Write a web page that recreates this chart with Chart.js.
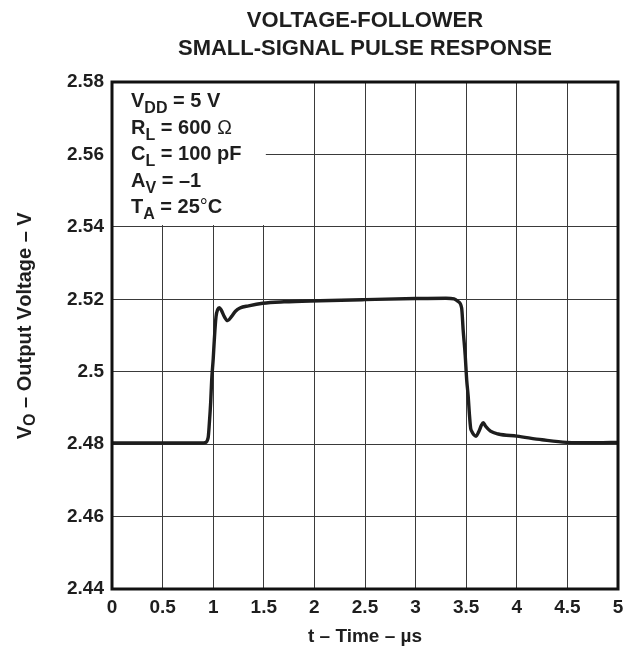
<!DOCTYPE html>
<html>
<head>
<meta charset="utf-8">
<script src="https://cdn.jsdelivr.net/npm/chart.js@4/dist/chart.umd.min.js"></script>
<style>
  html, body { margin: 0; padding: 0; background: #fff; }
  #pulse { display: block; }
</style>
</head>
<body>
<canvas id="pulse" width="634" height="654"></canvas>
<script>
// Small-signal pulse response, output voltage vs time
const timeUs = [0, 0.5, 0.9, 0.92, 0.95, 0.962, 0.975, 0.985, 1.0, 1.011, 1.028, 1.045, 1.06, 1.08,
    1.11, 1.143, 1.18, 1.22, 1.265, 1.35, 1.49, 1.7, 2.055, 2.5, 3.0, 3.3, 3.38, 3.42, 3.455, 3.47,
    3.49, 3.505, 3.52, 3.531, 3.544, 3.554, 3.575, 3.597, 3.625, 3.65, 3.669, 3.69, 3.74, 3.817,
    4.0, 4.25, 4.49, 4.79, 5.0];
const outputV = [2.4803, 2.4803, 2.4803, 2.4804, 2.4818, 2.4858, 2.4915, 2.4977, 2.5035, 2.5088,
    2.5152, 2.5172, 2.5177, 2.5170, 2.5152, 2.5141, 2.5152, 2.5167, 2.5176, 2.5182, 2.5189, 2.5193,
    2.5196, 2.5199, 2.5202, 2.5203, 2.5201, 2.5194, 2.5176, 2.5115, 2.5046, 2.4977, 2.4931, 2.4885,
    2.4844, 2.4836, 2.4826, 2.4822, 2.4835, 2.4852, 2.4859, 2.4850, 2.4836, 2.4828, 2.4822, 2.4812,
    2.4805, 2.4804, 2.4805];

const titleLines = ['VOLTAGE-FOLLOWER', 'SMALL-SIGNAL PULSE RESPONSE'];
const xTitle = 't \u2013 Time \u2013 \u00b5s';
// each condition: [main, subscript, rest]
const conditions = [
    ['V', 'DD', ' = 5 V'],
    ['R', 'L', ' = 600 \u2126'],
    ['C', 'L', ' = 100 pF'],
    ['A', 'V', ' = \u20131'],
    ['T', 'A', ' = 25\u00b0C']
];
const yMin = 2.44, yMax = 2.58, yStep = 0.02;
const xMin = 0, xMax = 5, xStep = 0.5;

const FONT = '"Liberation Sans", Arial, sans-serif';
const INK = '#1e1e1e';

function drawSubText(ctx, x, y, parts, size) {
    const [main, sub, rest] = parts;
    ctx.font = 'bold ' + size + 'px ' + FONT;
    ctx.fillText(main, x, y);
    x += ctx.measureText(main).width;
    ctx.font = 'bold ' + Math.round(size * 0.8) + 'px ' + FONT;
    ctx.fillText(sub, x, y + size * 0.3);
    x += ctx.measureText(sub).width;
    // symbols drawn in a lighter weight
    for (const ch of rest) {
        ctx.font = (ch === '\u2126' || ch === '\u00b0' ? '' : 'bold ') + size + 'px ' + FONT;
        ctx.fillText(ch, x, y);
        x += ctx.measureText(ch).width;
    }
}

const decorations = {
    id: 'decorations',
    beforeDatasetsDraw(chart) {
        // blank panel behind the test conditions
        const { ctx, chartArea, scales } = chart;
        const r = scales.x.getPixelForValue(1.52);
        const b = scales.y.getPixelForValue(2.5405);
        ctx.save();
        ctx.fillStyle = '#fff';
        ctx.fillRect(chartArea.left, chartArea.top, r - chartArea.left, b - chartArea.top);
        ctx.restore();
    },
    afterDraw(chart) {
        const { ctx, chartArea } = chart;
        ctx.save();
        // frame
        ctx.strokeStyle = '#111';
        ctx.lineWidth = 3;
        ctx.strokeRect(chartArea.left, chartArea.top, chartArea.right - chartArea.left, chartArea.bottom - chartArea.top);

        ctx.fillStyle = INK;
        // title
        ctx.textAlign = 'center';
        ctx.textBaseline = 'middle';
        ctx.font = 'bold 22px ' + FONT;
        const cx = (chartArea.left + chartArea.right) / 2;
        ctx.fillText(titleLines[0], cx, 21);
        ctx.fillText(titleLines[1], cx, 49);

        // test conditions
        ctx.textAlign = 'left';
        ctx.textBaseline = 'alphabetic';
        conditions.forEach((c, i) => {
            drawSubText(ctx, chartArea.left + 19, 107 + i * 26.5, c, 20);
        });

        // y axis title
        ctx.translate(25, (chartArea.top + chartArea.bottom) / 2 - 9);
        ctx.rotate(-Math.PI / 2);
        ctx.font = 'bold 20px ' + FONT;
        const full = ['V', 'O', ' \u2013 Output Voltage \u2013 V'];
        let w = ctx.measureText('V').width + ctx.measureText(full[2]).width;
        ctx.font = 'bold 16px ' + FONT;
        w += ctx.measureText('O').width;
        ctx.textBaseline = 'middle';
        drawSubText(ctx, -w / 2, 0, full, 20);
        ctx.restore();
    }
};

const points = timeUs.map((t, i) => ({ x: t, y: outputV[i] }));

new Chart(document.getElementById('pulse'), {
    type: 'line',
    data: {
        datasets: [{
            data: points,
            borderColor: INK,
            borderWidth: 3.4,
            pointRadius: 0,
            fill: false,
            cubicInterpolationMode: 'monotone'
        }]
    },
    options: {
        responsive: false,
        animation: false,
        layout: { padding: { top: 82, right: 16, left: 0, bottom: 0 } },
        plugins: {
            legend: { display: false },
            title: { display: false },
            tooltip: { enabled: false }
        },
        scales: {
            x: {
                type: 'linear',
                min: xMin,
                max: xMax,
                afterFit(scale) { scale.height = 65; },
                ticks: {
                    stepSize: xStep,
                    padding: 7,
                    color: INK,
                    font: { family: FONT, size: 19, weight: 'bold' },
                    callback: v => String(v)
                },
                grid: { color: '#3a3a3a', lineWidth: 1, drawTicks: false },
                border: { display: false },
                title: {
                    display: true,
                    text: xTitle,
                    color: INK,
                    font: { family: FONT, size: 19, weight: 'bold' },
                    padding: { top: 0, bottom: 6 }
                }
            },
            y: {
                min: yMin,
                max: yMax,
                afterFit(scale) { scale.width = 112; },
                ticks: {
                    stepSize: yStep,
                    padding: 8,
                    color: INK,
                    font: { family: FONT, size: 19, weight: 'bold' },
                    callback: v => String(Number(v.toFixed(2)))
                },
                grid: { color: '#3a3a3a', lineWidth: 1, drawTicks: false },
                border: { display: false }
            }
        }
    },
    plugins: [decorations]
});
</script>
</body>
</html>
